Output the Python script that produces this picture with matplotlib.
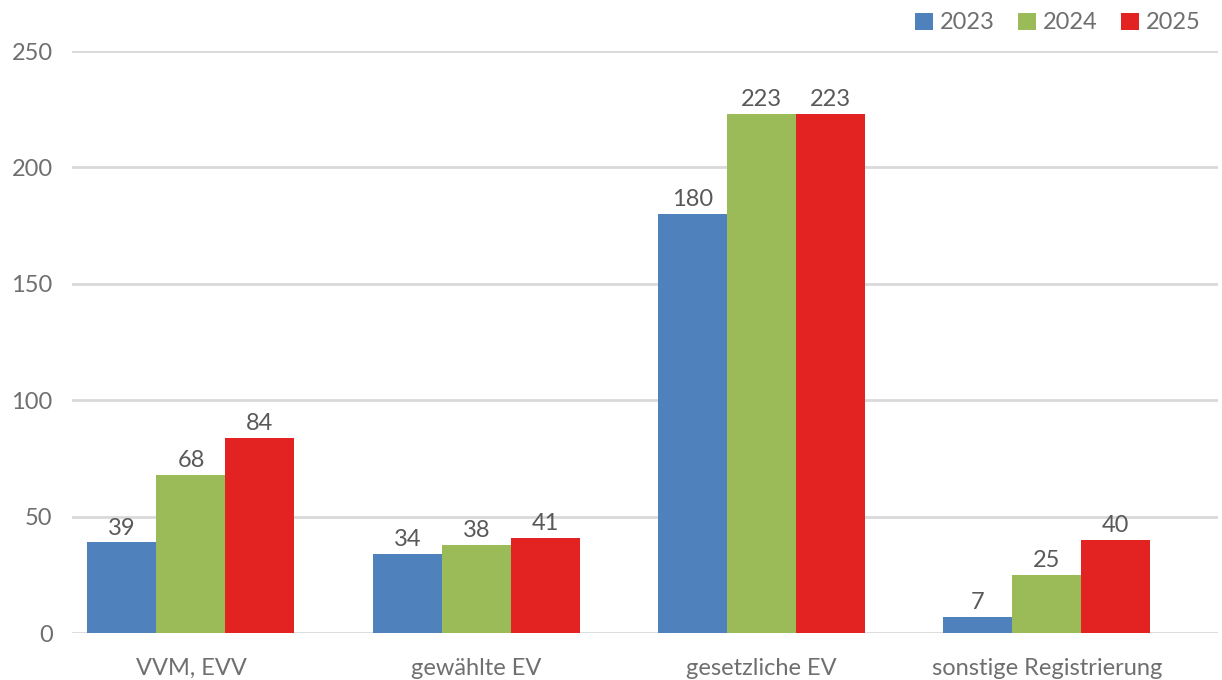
import numpy as np
import matplotlib.pyplot as plt

plt.rcParams['font.family'] = ['Lato', 'DejaVu Sans']

categories = ['VVM, EVV', 'gewählte EV', 'gesetzliche EV', 'sonstige Registrierung']
years = ['2023', '2024', '2025']
v2023 = [39, 34, 180, 7]
v2024 = [68, 38, 223, 25]
v2025 = [84, 41, 223, 40]
colors = ['#4F81BD', '#9BBB59', '#E32322']

fig = plt.figure(figsize=(12.22, 6.8), dpi=100)
ax = fig.add_axes([0.0589, 0.069, 0.9378, 0.856])

x = np.arange(len(categories))
w = 0.242
for i, (vals, yr, c) in enumerate(zip([v2023, v2024, v2025], years, colors)):
    bars = ax.bar(x + (i - 1) * w, vals, w, color=c, label=yr, zorder=3)
    for b, v in zip(bars, vals):
        ax.text(b.get_x() + b.get_width() / 2, v + 1.5, str(v), ha='center', va='bottom',
                fontsize=17, color='#595959', zorder=4)

ax.set_xlim(-0.417, 3.600)
ax.set_ylim(0, 250)
ax.set_yticks([0, 50, 100, 150, 200, 250])
ax.yaxis.grid(True, color='#D9D9D9', linewidth=2, zorder=0)
for s in ax.spines.values():
    s.set_visible(False)
ax.tick_params(axis='both', length=0, labelsize=17, labelcolor='#6F6F6F')
ax.tick_params(axis='y', pad=14)
ax.tick_params(axis='x', pad=18)
ax.set_xticks(x)
ax.set_xticklabels(categories)

fig.legend(loc='upper right', bbox_to_anchor=(1.0, 1.013), ncol=3, frameon=False,
           fontsize=17, handlelength=0.75, handleheight=0.75, handletextpad=0.3,
           columnspacing=1.0, labelcolor='#6F6F6F')

fig.savefig('out.png', dpi=100)
